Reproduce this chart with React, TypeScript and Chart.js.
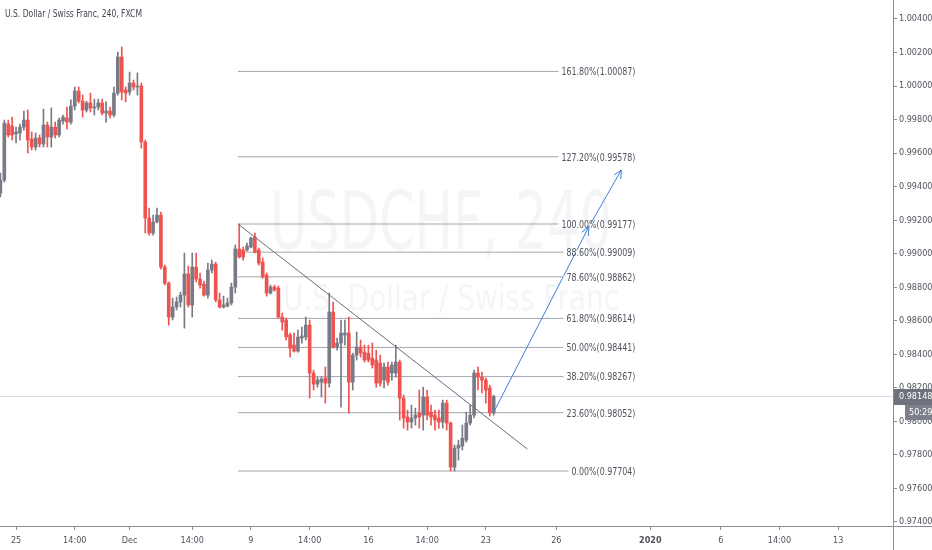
import React, { useEffect, useRef } from 'react';
import { Chart, registerables } from 'chart.js';
Chart.register(...registerables);

const FONT = "'DejaVu Sans Condensed', 'DejaVu Sans', sans-serif";

const opens = [0.99362,0.99439,0.99773,0.99761,0.99714,0.99720,0.99755,0.99797,0.99684,0.99636,0.99690,0.99654,0.99767,0.99696,0.99755,0.99708,0.99791,0.99809,0.99785,0.99881,0.99970,0.99910,0.99857,0.99899,0.99869,0.99875,0.99899,0.99839,0.99851,0.99827,0.99958,1.00173,0.99976,0.99964,1.00018,0.99994,1.00000,0.99666,0.99213,0.99123,0.99189,0.99230,0.98920,0.98825,0.98622,0.98682,0.98712,0.98753,0.98879,0.98694,0.98920,0.98849,0.98819,0.98753,0.98902,0.98938,0.98724,0.98682,0.98688,0.98706,0.98801,0.99028,0.99022,0.99022,0.99040,0.99099,0.99022,0.98950,0.98873,0.98765,0.98801,0.98795,0.98622,0.98604,0.98515,0.98455,0.98419,0.98497,0.98503,0.98574,0.98288,0.98222,0.98234,0.98258,0.98228,0.98652,0.98443,0.98467,0.98515,0.98527,0.98234,0.98395,0.98443,0.98413,0.98407,0.98377,0.98366,0.98348,0.98246,0.98324,0.98288,0.98288,0.98354,0.98139,0.98026,0.97996,0.98020,0.98049,0.98037,0.98145,0.98055,0.98037,0.98020,0.97996,0.98109,0.97990,0.97727,0.97841,0.97853,0.97888,0.97990,0.98037,0.98288,0.98264,0.98246,0.98199,0.98050];
const highs = [0.99481,0.99797,0.99797,0.99815,0.99755,0.99773,0.99851,0.99857,0.99726,0.99720,0.99708,0.99863,0.99785,0.99869,0.99785,0.99809,0.99827,0.99875,0.99917,0.99994,0.99994,0.99946,0.99910,0.99958,0.99922,0.99922,0.99922,0.99905,0.99875,0.99994,1.00203,1.00233,0.99994,1.00083,1.00036,1.00078,1.00018,0.99678,0.99272,0.99230,0.99272,0.99248,0.98932,0.98831,0.98735,0.98741,0.98771,0.99004,0.98926,0.99004,0.99004,0.98885,0.98837,0.98944,0.98962,0.98950,0.98765,0.98747,0.98735,0.98825,0.99052,0.99177,0.99040,0.99063,0.99099,0.99123,0.99034,0.98974,0.98885,0.98813,0.98813,0.98807,0.98646,0.98616,0.98527,0.98527,0.98544,0.98562,0.98622,0.98604,0.98306,0.98264,0.98264,0.98324,0.98765,0.98712,0.98497,0.98604,0.98604,0.98622,0.98407,0.98533,0.98485,0.98455,0.98455,0.98467,0.98425,0.98395,0.98348,0.98354,0.98354,0.98455,0.98366,0.98157,0.98067,0.98097,0.98079,0.98187,0.98204,0.98187,0.98097,0.98067,0.98067,0.98127,0.98127,0.97996,0.97859,0.97888,0.97978,0.98055,0.98097,0.98306,0.98324,0.98294,0.98258,0.98216,0.98157];
const lows = [0.99338,0.99427,0.99696,0.99678,0.99660,0.99678,0.99737,0.99600,0.99618,0.99618,0.99636,0.99636,0.99636,0.99636,0.99690,0.99696,0.99773,0.99744,0.99773,0.99857,0.99899,0.99815,0.99845,0.99845,0.99827,0.99857,0.99827,0.99785,0.99809,0.99815,0.99946,0.99917,0.99905,0.99946,0.99976,0.99946,0.99630,0.99123,0.99111,0.99111,0.99183,0.98908,0.98813,0.98574,0.98604,0.98664,0.98682,0.98556,0.98682,0.98622,0.98831,0.98795,0.98747,0.98735,0.98885,0.98712,0.98676,0.98676,0.98682,0.98694,0.98765,0.98974,0.98962,0.99016,0.99034,0.99004,0.98932,0.98855,0.98747,0.98759,0.98777,0.98616,0.98544,0.98485,0.98383,0.98413,0.98413,0.98467,0.98485,0.98139,0.98187,0.98204,0.98145,0.98109,0.98204,0.98437,0.98425,0.98085,0.98455,0.98049,0.98187,0.98366,0.98383,0.98354,0.98354,0.98318,0.98204,0.98210,0.98199,0.98216,0.98246,0.98264,0.98008,0.97960,0.97948,0.97960,0.97978,0.97960,0.97948,0.98008,0.97978,0.97948,0.97960,0.97960,0.97948,0.97704,0.97704,0.97769,0.97829,0.97876,0.97978,0.98020,0.98187,0.98169,0.98109,0.98032,0.98037];
const closes = [0.99439,0.99779,0.99708,0.99708,0.99726,0.99755,0.99797,0.99678,0.99636,0.99690,0.99654,0.99767,0.99696,0.99755,0.99708,0.99797,0.99815,0.99785,0.99881,0.99970,0.99910,0.99857,0.99899,0.99869,0.99875,0.99899,0.99839,0.99851,0.99827,0.99958,1.00173,0.99964,0.99958,1.00018,0.99994,1.00000,0.99666,0.99213,0.99123,0.99189,0.99230,0.98920,0.98825,0.98622,0.98682,0.98712,0.98753,0.98879,0.98694,0.98920,0.98849,0.98813,0.98753,0.98902,0.98938,0.98724,0.98682,0.98694,0.98706,0.98801,0.99028,0.98980,0.98980,0.99046,0.99093,0.99010,0.98944,0.98861,0.98765,0.98801,0.98783,0.98622,0.98592,0.98503,0.98437,0.98419,0.98503,0.98509,0.98574,0.98288,0.98222,0.98246,0.98252,0.98228,0.98652,0.98443,0.98467,0.98527,0.98527,0.98234,0.98395,0.98443,0.98407,0.98366,0.98366,0.98336,0.98228,0.98228,0.98324,0.98234,0.98336,0.98354,0.98139,0.98020,0.97996,0.98020,0.98037,0.98026,0.98145,0.98037,0.98026,0.98008,0.97996,0.98109,0.97990,0.97727,0.97841,0.97859,0.97900,0.97990,0.98037,0.98288,0.98264,0.98246,0.98187,0.98050,0.98148];

const xTickPos = [4, 19, 33, 49, 64, 79, 94, 109, 124, 142, 166, 184, 199, 214];
const xTickLabels = ['25', '14:00', 'Dec', '14:00', '9', '14:00', '16', '14:00', '23', '26', '2020', '6', '14:00', '13'];
const xBoldLabels = ['2020'];
const yTickVals = [0.974, 0.976, 0.978, 0.98, 0.982, 0.984, 0.986, 0.988, 0.99, 0.992, 0.994, 0.996, 0.998, 1.0, 1.002, 1.004];

const fibRatios = ['0.00%', '23.60%', '38.20%', '50.00%', '61.80%', '78.60%', '88.60%', '100.00%', '127.20%', '161.80%'];
const fibPrices = [0.97704, 0.98052, 0.98267, 0.98441, 0.98614, 0.98862, 0.99009, 0.99177, 0.99578, 1.00087];
const fibStartX = 60.7;
const fibEndX = 162.2;

const trendX = [60.7, 134.6];
const trendY = [0.99177, 0.97835];
const arrowX = [125.9, 150.3, 158.6];
const arrowY = [0.98050, 0.99160, 0.99499];

const lastPrice = 0.98148;
const lastPriceLabel = '0.98148';
const countdownLabel = '50:29';
const titleText = 'U.S. Dollar / Swiss Franc, 240, FXCM';
const wmMain = 'USDCHF, 240';
const wmSub = 'U.S. Dollar / Swiss Franc';

const UP = '#787b86';
const DOWN = '#ef5350';

function squeezeText(ctx: any, text: string, x: number, y: number, targetW: number, align: string) {
  const w = ctx.measureText(text).width;
  const sx = Math.min(1, targetW / w);
  ctx.save();
  ctx.translate(x, y);
  ctx.scale(sx, 1);
  ctx.textAlign = align;
  ctx.fillText(text, 0, 0);
  ctx.restore();
}

const decor = {
  id: 'decor',
  beforeDatasetsDraw(chart: any) {
    const { ctx } = chart;
    ctx.save();
    ctx.fillStyle = 'rgba(120,123,134,0.08)';
    ctx.textBaseline = 'middle';
    ctx.font = `80px 'DejaVu Sans', sans-serif`;
    squeezeText(ctx, wmMain, 441, 228, 342, 'center');
    ctx.font = `36px 'DejaVu Sans', sans-serif`;
    squeezeText(ctx, wmSub, 451, 301, 336, 'center');
    ctx.restore();
  },
  afterDatasetsDraw(chart: any) {
    const { ctx } = chart;
    const xs = chart.scales.x;
    const ys = chart.scales.y;
    ctx.save();
    ctx.font = `11px ${FONT}`;
    ctx.textBaseline = 'middle';
    const right = xs.getPixelForValue(fibEndX);
    const ref = ctx.measureText('161.80%(1.00087)').width;
    const sx = 74 / ref;
    fibPrices.forEach((p, i) => {
      const label = `${fibRatios[i]}(${p.toFixed(5)})`;
      const y = ys.getPixelForValue(p);
      const w = ctx.measureText(label).width * sx;
      ctx.fillStyle = '#ffffff';
      ctx.fillRect(right - w - 3, Math.round(y) - 1.5, w + 6, 3);
      ctx.fillStyle = '#50535e';
      ctx.save();
      ctx.translate(right, y + 1);
      ctx.scale(sx, 1);
      ctx.textAlign = 'right';
      ctx.fillText(label, 0, 0);
      ctx.restore();
    });
    ctx.strokeStyle = '#3d7fd6';
    ctx.lineWidth = 1;
    for (let k = 1; k < arrowX.length; k++) {
      const x0 = xs.getPixelForValue(arrowX[k - 1]);
      const y0 = ys.getPixelForValue(arrowY[k - 1]);
      const x1 = xs.getPixelForValue(arrowX[k]);
      const y1 = ys.getPixelForValue(arrowY[k]);
      const a = Math.atan2(y1 - y0, x1 - x0);
      const L = 9;
      ctx.beginPath();
      ctx.moveTo(x1 - L * Math.cos(a - 0.45), y1 - L * Math.sin(a - 0.45));
      ctx.lineTo(x1, y1);
      ctx.lineTo(x1 - L * Math.cos(a + 0.45), y1 - L * Math.sin(a + 0.45));
      ctx.stroke();
    }
    ctx.restore();
  },
  afterDraw(chart: any) {
    const { ctx, chartArea, width, height } = chart;
    const ys = chart.scales.y;
    ctx.save();
    ctx.strokeStyle = '#8a8d96';
    ctx.lineWidth = 1;
    ctx.beginPath();
    ctx.moveTo(chartArea.right + 0.5, 0);
    ctx.lineTo(chartArea.right + 0.5, height);
    ctx.moveTo(0, chartArea.bottom + 0.5);
    ctx.lineTo(width, chartArea.bottom + 0.5);
    ctx.stroke();
    const py = Math.round(ys.getPixelForValue(lastPrice));
    ctx.fillStyle = '#6f727c';
    ctx.fillRect(chartArea.right + 1, py - 8, width - chartArea.right - 1, 16);
    ctx.fillStyle = '#7d808a';
    ctx.fillRect(chartArea.right + 12, py + 8, width - chartArea.right - 12, 15);
    ctx.fillStyle = '#ffffff';
    ctx.font = `9px ${FONT}`;
    ctx.textBaseline = 'middle';
    ctx.textAlign = 'left';
    ctx.fillText(lastPriceLabel, chartArea.right + 6, py);
    ctx.fillText(countdownLabel, chartArea.right + 16, py + 16);
    ctx.fillStyle = '#434651';
    ctx.font = `11px ${FONT}`;
    squeezeText(ctx, titleText, 5, 14, 137, 'left');
    ctx.restore();
  },
};

export default function App() {
  const ref = useRef<HTMLCanvasElement | null>(null);
  useEffect(() => {
    if (!ref.current) return;
    const idx = opens.map((_, i) => i);
    const colors = idx.map((i) => (closes[i] >= opens[i] ? UP : DOWN));
    const datasets: any[] = [
      {
        type: 'bar',
        data: idx.map((i) => ({ x: i, y: [opens[i], closes[i]] })),
        backgroundColor: colors,
        barThickness: 3,
        minBarLength: 1,
        grouped: false,
        order: 1,
      },
      {
        type: 'bar',
        data: idx.map((i) => ({ x: i, y: [lows[i], highs[i]] })),
        backgroundColor: colors,
        barThickness: 1,
        grouped: false,
        order: 2,
      },
      ...fibPrices.map((p) => ({
        type: 'line',
        data: [{ x: fibStartX, y: p }, { x: fibEndX, y: p }],
        borderColor: '#a3a6af',
        borderWidth: 1,
        pointRadius: 0,
        order: 3,
      })),
      {
        type: 'line',
        data: trendX.map((x, i) => ({ x, y: trendY[i] })),
        borderColor: '#6b6e78',
        borderWidth: 1,
        pointRadius: 0,
        order: 0,
      },
      {
        type: 'line',
        data: arrowX.map((x, i) => ({ x, y: arrowY[i] })),
        borderColor: '#3d7fd6',
        borderWidth: 1,
        pointRadius: 0,
        order: 0,
      },
      {
        type: 'line',
        data: [{ x: -0.1, y: lastPrice }, { x: 228, y: lastPrice }],
        borderColor: '#d3dbe8',
        borderWidth: 1,
        pointRadius: 0,
        order: 4,
      },
    ];
    const chart = new Chart(ref.current, {
      type: 'bar',
      data: { datasets },
      options: {
        animation: false,
        responsive: true,
        maintainAspectRatio: false,
        layout: { padding: 0 },
        plugins: { legend: { display: false }, tooltip: { enabled: false }, title: { display: false } },
        scales: {
          x: {
            type: 'linear',
            min: -0.1,
            max: 228,
            offset: false,
            border: { display: false },
            grid: { offset: false, drawOnChartArea: false, drawTicks: true, tickLength: 4, color: '#8a8d96' },
            afterBuildTicks: (s: any) => { s.ticks = xTickPos.map((v) => ({ value: v })); },
            afterFit: (s: any) => { s.height = 24; s.paddingLeft = 0; s.paddingRight = 0; },
            ticks: {
              autoSkip: false,
              maxRotation: 0,
              padding: 5,
              color: '#50535e',
              font: (c: any) => ({
                family: FONT,
                size: 9,
                weight: xBoldLabels.includes(xTickLabels[c.index]) ? 'bold' : 'normal',
              }),
              callback: (_v: any, i: number) => xTickLabels[i],
            },
          },
          y: {
            type: 'linear',
            position: 'right',
            min: 0.97376,
            max: 1.00513,
            border: { display: false },
            grid: { drawOnChartArea: false, drawTicks: true, tickLength: 4, color: '#8a8d96' },
            afterBuildTicks: (s: any) => { s.ticks = yTickVals.map((v) => ({ value: v })); },
            afterFit: (s: any) => { s.width = 39; s.paddingTop = 0; s.paddingBottom = 0; },
            ticks: {
              padding: 2,
              color: '#50535e',
              font: { family: FONT, size: 9 },
              callback: (v: any) => Number(v).toFixed(5),
            },
          },
        },
      },
      plugins: [decor],
    } as any);
    return () => chart.destroy();
  }, []);
  return (
    <div style={{ position: 'absolute', left: 0, top: 0, width: 932, height: 550, background: '#ffffff' }}>
      <canvas ref={ref} />
    </div>
  );
}
